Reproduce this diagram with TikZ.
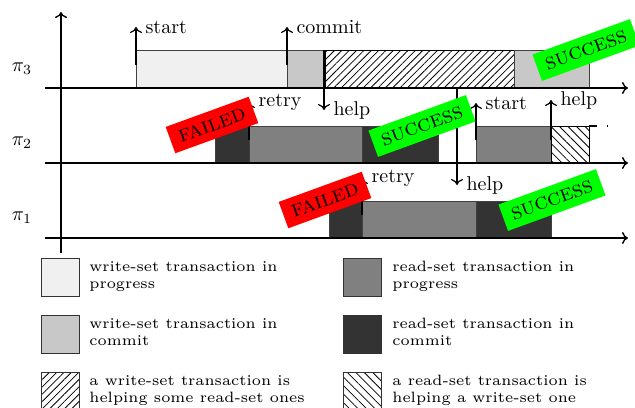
\documentclass[tikz,border=0pt]{standalone}
\usepackage{graphicx}
\usetikzlibrary{patterns.meta,arrows.meta}
\definecolor{wprogc}{HTML}{F0F0F0}
\definecolor{wcomc}{HTML}{C8C8C8}
\definecolor{rprogc}{HTML}{808080}
\definecolor{rcomc}{HTML}{333333}
\definecolor{okgreen}{HTML}{00FF00}
\definecolor{badred}{HTML}{FF0000}
\newcommand\legtext[2]{\scalebox{1.25}{\fontsize{6}{6.8}\selectfont\begin{tabular}{@{}l@{}}#1\\#2\end{tabular}}}
\begin{document}
\begin{tikzpicture}[x=0.5pt,y=-0.5pt,
  bar/.style={draw=black!75, line width=0.4pt},
  wprog/.style={bar, fill=wprogc},
  wcom/.style={bar, fill=wcomc},
  rprog/.style={bar, fill=rprogc},
  rcom/.style={bar, fill=rcomc},
  whelp/.style={bar, draw=black, pattern={Lines[angle=45,distance=2.6pt,line width=0.4pt]}},
  rhelp/.style={bar, draw=black, pattern={Lines[angle=-45,distance=3pt,line width=0.4pt]}},
  axis/.style={line width=0.7pt, -{To[length=3pt,width=6pt]}},
  evt/.style={line width=0.6pt, -{To[length=3pt,width=6pt]}},
  lbl/.style={inner sep=2pt, font=\normalsize, xshift=2.5pt},
  tag/.style={rotate=20, inner xsep=4.5pt, minimum height=14pt, font=\fontsize{11.5}{13}\selectfont\scshape},
  ok/.style={tag, fill=okgreen},
  bad/.style={tag, fill=badred},
  legbox/.style={draw=black!80, line width=0.5pt, minimum width=19pt, minimum height=19pt, inner sep=0pt},
  legtxt/.style={anchor=west, inner sep=0pt}
]
\useasboundingbox (0,0) rectangle (635,407);

% ---- bars pi3
\draw[wprog] (136,50) rectangle (287,88);
\draw[wcom] (287,50) rectangle (325,88);
\draw[whelp] (325,50) rectangle (514,88);
\draw[wcom] (514,50) rectangle (589,88);
% ---- bars pi2
\draw[rcom] (215,126) rectangle (249,163);
\draw[rprog] (249,126) rectangle (362,163);
\draw[rcom] (362,126) rectangle (438,163);
\draw[rprog] (476,126) rectangle (551,163);
\draw[rhelp] (551,126) rectangle (589,163);
\coordinate (d1) at (589,126);
\coordinate (d2) at (612,126);
\draw[line width=0.6pt, dash pattern=on 4pt off 5pt on 0.6pt off 10pt] (d1) -- (d2);
% ---- bars pi1
\draw[rcom] (329,201) rectangle (362,238);
\draw[rprog] (362,201) rectangle (476,238);
\draw[rcom] (476,201) rectangle (551,238);

% ---- axes
\coordinate (yb) at (61,253);
\coordinate (yt) at (61,12);
\draw[axis] (yb) -- (yt);
\coordinate (a3l) at (45,88);  \coordinate (a3r) at (628,88);
\coordinate (a2l) at (45,163); \coordinate (a2r) at (628,163);
\coordinate (a1l) at (45,238); \coordinate (a1r) at (628,238);
\draw[axis] (a3l) -- (a3r);
\draw[axis] (a2l) -- (a2r);
\draw[axis] (a1l) -- (a1r);
\node (p3) at (22,69) {$\pi_3$};
\node (p2) at (22,143) {$\pi_2$};
\node (p1) at (22,218) {$\pi_1$};

% ---- events
\coordinate (s3a) at (136,65);  \coordinate (s3b) at (136,27);
\draw[evt] (s3a) -- (s3b) node[lbl, anchor=west] (ls3) {start};
\coordinate (c3a) at (287,65);  \coordinate (c3b) at (287,27);
\draw[evt] (c3a) -- (c3b) node[lbl, anchor=west] (lc3) {commit};
\coordinate (h3a) at (324,50);  \coordinate (h3b) at (324,110);
\draw[evt] (h3a) -- (h3b) node[lbl, anchor=west] (lh3) {help};
\coordinate (h4a) at (457,88);  \coordinate (h4b) at (457,185);
\draw[evt] (h4a) -- (h4b) node[lbl, anchor=west] (lh4) {help};
\coordinate (r2a) at (249,140); \coordinate (r2b) at (249,102);
\draw[evt] (r2a) -- (r2b) node[lbl, anchor=west] (lr2) {retry};
\coordinate (s2a) at (476,140); \coordinate (s2b) at (476,103);
\draw[evt] (s2a) -- (s2b) node[lbl, anchor=west] (ls2) {start};
\coordinate (h2a) at (551,140); \coordinate (h2b) at (551,100);
\draw[evt] (h2a) -- (h2b) node[lbl, anchor=west] (lh2) {help};
\coordinate (r1a) at (362,215); \coordinate (r1b) at (362,178);
\draw[evt] (r1a) -- (r1b) node[lbl, anchor=west] (lr1) {retry};

% ---- outcome tags
\node[bad] (f2) at (212,125) {failed};
\node[ok]  (g2) at (422,126) {success};
\node[ok]  (g3) at (586,50)  {success};
\node[bad] (f1) at (325,200) {failed};
\node[ok]  (g1) at (552,200) {success};

% ---- legend
\node[legbox, fill=wprogc] (k1) at (60,277) {};
\node[legtxt] (t1) at (89,277) {\legtext{write-set transaction in}{progress}};
\node[legbox, fill=rprogc] (k2) at (362,277) {};
\node[legtxt] (t2) at (392,277) {\legtext{read-set transaction in}{progress}};
\node[legbox, fill=wcomc] (k3) at (60,334) {};
\node[legtxt] (t3) at (89,334) {\legtext{write-set transaction in}{commit}};
\node[legbox, fill=rcomc] (k4) at (362,334) {};
\node[legtxt] (t4) at (392,334) {\legtext{read-set transaction in}{commit}};
\node[legbox, pattern={Lines[angle=45,distance=2.6pt,line width=0.4pt]}] (k5) at (60,391) {};
\node[legtxt] (t5) at (89,391) {\legtext{a write-set transaction is}{helping some read-set ones}};
\node[legbox, pattern={Lines[angle=-45,distance=3pt,line width=0.4pt]}] (k6) at (362,391) {};
\node[legtxt] (t6) at (392,391) {\legtext{a read-set transaction is}{helping a write-set one}};
\end{tikzpicture}
\end{document}
